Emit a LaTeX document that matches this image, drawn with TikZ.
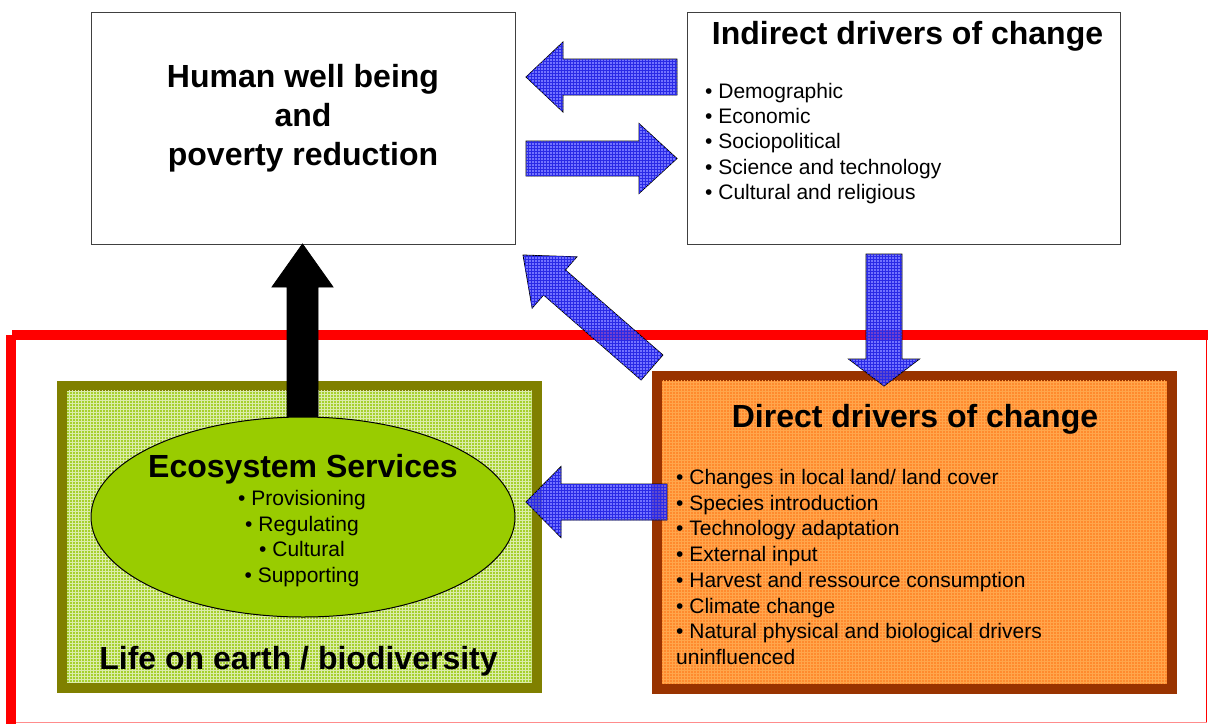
\documentclass[tikz,border=0pt]{standalone}
\usepackage{fontspec}
\setmainfont{Liberation Sans}
\usetikzlibrary{calc,shapes.geometric,patterns}
\definecolor{olivebd}{HTML}{808000}
\definecolor{greenfill}{HTML}{A6D02E}
\definecolor{ecogreen}{HTML}{99CC00}
\definecolor{brownbd}{HTML}{993300}
\definecolor{orangefill}{HTML}{FF8A2E}
\definecolor{arrowblue}{HTML}{5050FF}
\definecolor{gridblue}{HTML}{2A2AE6}
\definecolor{framered}{HTML}{FF0000}
\tikzset{
  whitebox/.style={draw=black!75, line width=1pt, fill=white, inner sep=0pt, outer sep=0pt},
  framebox/.style={line width=10pt, inner sep=0pt, outer sep=0pt},
  headtxt/.style={font=\fontsize{32}{39}\selectfont\bfseries, inner sep=0pt, align=center},
  listtxt/.style={font=\fontsize{21}{25.3}\selectfont, inner sep=0pt, align=left},
  listtxtb/.style={font=\fontsize{21}{25.7}\selectfont, inner sep=0pt},
  bluearrow/.style={draw=black, line width=0.8pt, fill=arrowblue, fill opacity=0.8,
     postaction={pattern=grid, pattern color=gridblue}},
  blackarrow/.style={draw=black, line width=0.8pt, fill=black},
}
\newcommand{\blockarrow}[6]{%
  \coordinate (ba-h) at ($(#3)!#6!(#2)$);
  \path[#1] ($(#2)!#4!90:(#3)$) -- ($(ba-h)!#4!90:(#3)$) -- ($(ba-h)!#5!90:(#3)$) -- (#3)
    -- ($(ba-h)!#5!-90:(#3)$) -- ($(ba-h)!#4!-90:(#3)$) -- ($(#2)!#4!-90:(#3)$) -- cycle;
}
\begin{document}
\begin{tikzpicture}[x=1pt,y=-1pt]
\useasboundingbox (0,0) rectangle (1208,724);
% red frame
\fill[framered] (12,330) rectangle (1208,340);
\fill[framered] (6,335) rectangle (16,724);
\draw[framered, line width=1pt] (1206.5,340) -- (1206.5,722.5);
\draw[framered!45, line width=1.5pt] (16,722.5) -- (1207,722.5);

% top boxes
\node[whitebox, minimum width=424pt, minimum height=232pt] (hwbbox) at (303,128) {};
\node[whitebox, minimum width=433pt, minimum height=232pt] (idbox) at (903.5,128) {};

% green box
\node[framebox, draw=olivebd, fill=greenfill, minimum width=474.5pt, minimum height=302pt] (gbox) at (299.25,536.5) {};
\fill[pattern=grid, pattern color=white!60!greenfill] ($(gbox.north west)+(5,5)$) rectangle ($(gbox.south east)+(-5,-5)$);
% orange box
\node[framebox, draw=brownbd, fill=orangefill, minimum width=514.5pt, minimum height=313pt] (obox) at (914.25,532) {};
\fill[pattern=grid, pattern color=orange!70!white] ($(obox.north west)+(5,5)$) rectangle ($(obox.south east)+(-5,-5)$);

% black arrow (ecosystem -> human well being)
\coordinate (k-s) at (302.5,430);
\coordinate (k-e) at (302.5,244);
\blockarrow{blackarrow}{k-s}{k-e}{15.5pt}{30.5pt}{43pt}

% ellipse
\node[ellipse, draw=black, line width=1pt, fill=ecogreen, minimum width=424pt, minimum height=200pt, inner sep=0pt] (eco) at (303,517) {};

% blue arrows
\coordinate (a1s) at (677,77);   \coordinate (a1e) at (526,77);
\coordinate (a2s) at (526,158.5); \coordinate (a2e) at (677,158.5);
\coordinate (a3s) at (884,254);  \coordinate (a3e) at (884,386);
\coordinate (a4s) at (652,367.5); \coordinate (a4e) at (523,255);
\coordinate (a5s) at (667,502);  \coordinate (a5e) at (526,502);
\blockarrow{bluearrow}{a1s}{a1e}{18pt}{35pt}{37pt}
\blockarrow{bluearrow}{a2s}{a2e}{17.5pt}{35pt}{38pt}
\blockarrow{bluearrow}{a3s}{a3e}{18pt}{35.5pt}{27pt}
\blockarrow{bluearrow}{a4s}{a4e}{16.6pt}{34pt}{41.8pt}
\blockarrow{bluearrow}{a5s}{a5e}{18pt}{35.5pt}{35pt}

% texts
\node[headtxt] (hwbtxt) at (303,118.5) {Human well being\\and\\poverty reduction};
\node[headtxt] (idtitle) at (907.5,36.5) {Indirect drivers of change};
\node[listtxt, anchor=west] (idlist) at (705,143.5) {• Demographic\\• Economic\\• Sociopolitical\\• Science and technology\\• Cultural and religious};
\node[headtxt] (ddtitle) at (915,419.5) {Direct drivers of change};
\node[listtxtb, align=left, anchor=west] (ddlist) at (676,567) {• Changes in local land/ land cover\\• Species introduction\\• Technology adaptation\\• External input\\• Harvest and ressource consumption\\• Climate change\\• Natural physical and biological drivers\\uninfluenced};
\node[headtxt] (ecotitle) at (303,469.5) {Ecosystem Services};
\node[listtxtb, align=center] (ecolist) at (302,538.5) {• Provisioning\\• Regulating\\• Cultural\\• Supporting};
\node[headtxt] (lifetxt) at (298.5,661) {Life on earth / biodiversity};
\end{tikzpicture}
\end{document}
